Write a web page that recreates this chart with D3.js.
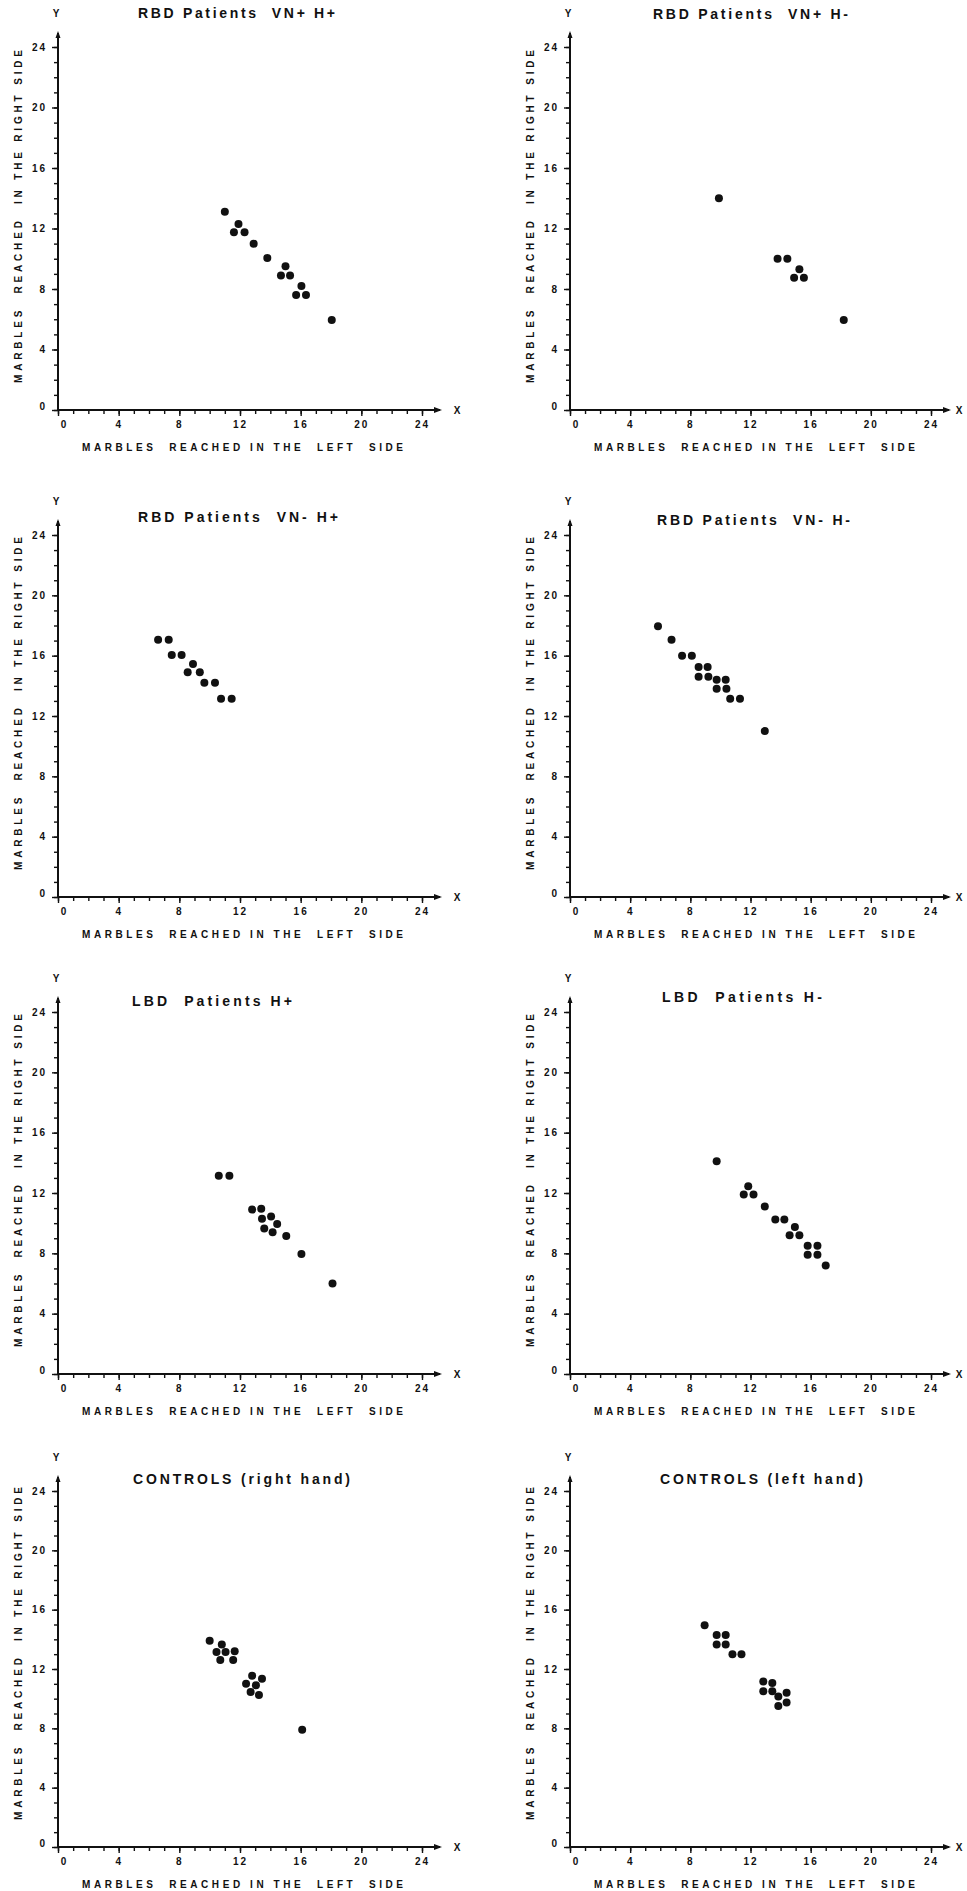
<!DOCTYPE html>
<meta charset="utf-8">
<style>
  body { margin: 0; background: #fff; }
  text { font-family: "Liberation Sans", Arial, sans-serif; font-weight: bold; fill: #111; white-space: pre; }
  .tick text { font-size: 10px; letter-spacing: 2px; }
  .title { font-size: 14px; }
  .axlabel { font-size: 10px; }
</style>
<body>
<script src="https://cdn.jsdelivr.net/npm/d3@7"></script>
<script>

var width = 967
var height = 1891

// panel titles
var titles = [
  "RBD Patients  VN+ H+",
  "RBD Patients  VN+ H-",
  "RBD Patients  VN- H+",
  "RBD Patients  VN- H-",
  "LBD  Patients H+",
  "LBD  Patients H-",
  "CONTROLS (right hand)",
  "CONTROLS (left hand)"
]

// [left side, right side] marbles reached
var rbdVNpHp = [[11.0,13.1],[11.6,11.75],[11.9,12.3],[12.3,11.75],[12.9,11.0],[13.8,10.05],
  [14.7,8.9],[15.0,9.5],[15.3,8.9],[16.05,8.2],[15.7,7.6],[16.35,7.6],[18.05,5.95]]
var rbdVNpHm = [[9.9,14.0],[13.8,10.0],[14.45,10.0],[15.25,9.3],[14.9,8.75],[15.55,8.75],[18.2,5.95]]
var rbdVNmHp = [[6.6,17.05],[7.3,17.05],[7.5,16.05],[8.15,16.05],[8.9,15.45],[8.55,14.9],[9.35,14.9],
  [9.65,14.2],[10.35,14.2],[10.75,13.15],[11.45,13.15]]
var rbdVNmHm = [[5.85,17.95],[6.75,17.05],[7.45,16.0],[8.1,16.0],[8.55,15.25],[9.15,15.25],[8.55,14.6],
  [9.2,14.6],[9.75,14.4],[10.35,14.4],[9.75,13.8],[10.4,13.8],[10.65,13.15],[11.3,13.15],[12.95,11.0]]
var lbdHp = [[10.6,13.15],[11.3,13.15],[12.8,10.9],[13.4,10.95],[13.45,10.3],[14.05,10.45],[14.45,9.95],
  [13.6,9.65],[14.15,9.4],[15.05,9.15],[16.05,7.95],[18.1,6.0]]
var lbdHm = [[9.75,14.1],[11.85,12.45],[11.55,11.9],[12.2,11.9],[12.95,11.1],[13.65,10.25],[14.25,10.25],
  [14.95,9.75],[14.6,9.2],[15.25,9.2],[15.8,8.5],[16.45,8.5],[15.8,7.9],[16.45,7.9],[17.0,7.2]]
var ctrlRight = [[10.0,13.9],[10.45,13.15],[10.8,13.65],[11.05,13.15],[10.7,12.6],[11.65,13.2],[11.55,12.6],
  [12.8,11.55],[13.45,11.35],[12.4,11.0],[13.05,10.9],[12.7,10.45],[13.25,10.25],[16.1,7.9]]
var ctrlLeft = [[8.95,14.95],[9.75,14.3],[10.35,14.3],[9.75,13.65],[10.35,13.65],[10.8,13.0],[11.4,13.0],
  [12.85,11.15],[13.45,11.05],[12.85,10.5],[13.45,10.5],[13.85,10.15],[14.4,10.4],[13.85,9.5],[14.4,9.75]]

var panels = [rbdVNpHp, rbdVNpHm, rbdVNmHp, rbdVNmHm, lbdHp, lbdHm, ctrlRight, ctrlLeft]

var xTicksMinor = d3.range(0, 25)
var xTicksMajor = [0, 4, 8, 12, 16, 20, 24]

// layout of the 2 x 4 grid
var colLeft = [58, 570]
var colWidth = [364, 361]
var rowTop = [47, 535, 1012, 1491]
var rowHeight = [363, 362, 362, 356]
var titleDx = [80, 83, 80, 87, 74, 92, 75, 90]
var titleDy = [-29, -28, -13, -10, -6, -10, -7, -7]
var titleLen = [197, 195, 200, 193, 160, 160, 217, 203]

var svg = d3.select("body")
  .append("svg")
  .attr("width", width)
  .attr("height", height)

panels.forEach(function (data, i) {
  var col = i % 2, row = Math.floor(i / 2)
  var w = colWidth[col], h = rowHeight[row]

  var g = svg.append("g")
    .attr("transform", "translate(" + colLeft[col] + "," + rowTop[row] + ")")

  var x = d3.scaleLinear().domain([0, 24]).range([0, w])
  var y = d3.scaleLinear().domain([0, 24]).range([h, 0])

  // minor ticks, every marble
  g.append("g")
    .attr("transform", "translate(0," + h + ")")
    .call(d3.axisBottom(x).tickValues(xTicksMinor).tickSize(4).tickFormat(""))
  g.append("g")
    .call(d3.axisLeft(y).tickValues(xTicksMinor).tickSize(4).tickFormat(""))

  // major ticks with labels
  var xa = g.append("g")
    .attr("transform", "translate(0," + h + ")")
    .call(d3.axisBottom(x).tickValues(xTicksMajor).tickSize(6).tickPadding(5))
  var ya = g.append("g")
    .call(d3.axisLeft(y).tickValues(xTicksMajor).tickSize(6).tickPadding(5))
  ya.selectAll(".tick text").filter(function (d) { return d === 0 }).attr("dy", "-0.1em")
  xa.selectAll(".tick text").filter(function (d) { return d === 0 }).attr("dx", "6")

  g.selectAll(".domain").remove()
  g.selectAll(".tick line").attr("stroke", "#111").attr("stroke-width", 1.4)

  // axis lines with arrow heads
  g.append("line").attr("x1", x(0)).attr("y1", y(0)).attr("x2", x(24) + 18).attr("y2", y(0))
    .attr("stroke", "#111").attr("stroke-width", 2)
  g.append("path")
    .attr("d", "M" + (x(24) + 12) + "," + (y(0) - 3) + "L" + (x(24) + 20) + "," + y(0) + "L" + (x(24) + 12) + "," + (y(0) + 3) + "Z")
    .attr("fill", "#111")
  g.append("line").attr("x1", x(0)).attr("y1", y(0) + 1).attr("x2", x(0)).attr("y2", y(24) - 14)
    .attr("stroke", "#111").attr("stroke-width", 2)
  g.append("path")
    .attr("d", "M" + (x(0) - 2.5) + "," + (y(24) - 9) + "L" + x(0) + "," + (y(24) - 16) + "L" + (x(0) + 2.5) + "," + (y(24) - 9) + "Z")
    .attr("fill", "#111")

  var xLabelX = Math.min(x(24) + 35, width - 8 - colLeft[col])
  g.append("text").attr("class", "axlabel").attr("x", xLabelX).attr("y", y(0) + 4)
    .attr("text-anchor", "middle").text("X")
  g.append("text").attr("class", "axlabel").attr("x", x(0) - 2).attr("y", y(24) - 30)
    .attr("text-anchor", "middle").text("Y")

  // titles
  g.append("text").attr("class", "title")
    .attr("x", titleDx[i]).attr("y", titleDy[i])
    .attr("textLength", titleLen[i]).attr("lengthAdjust", "spacing")
    .text(titles[i])

  g.append("text").attr("class", "axlabel")
    .attr("x", 24).attr("y", h + 41)
    .attr("textLength", 321).attr("lengthAdjust", "spacing")
    .text("MARBLES  REACHED IN THE  LEFT  SIDE")

  g.append("text").attr("class", "axlabel")
    .attr("transform", "translate(-36," + (h - 27) + ") rotate(-90)")
    .attr("textLength", 333).attr("lengthAdjust", "spacing")
    .text("MARBLES  REACHED  IN THE RIGHT SIDE")

  g.selectAll("circle")
    .data(data)
    .enter()
    .append("circle")
      .attr("cx", function (d) { return x(d[0]) })
      .attr("cy", function (d) { return y(d[1]) })
      .attr("r", 4)
      .attr("fill", "#111")
})

</script>
</body>
